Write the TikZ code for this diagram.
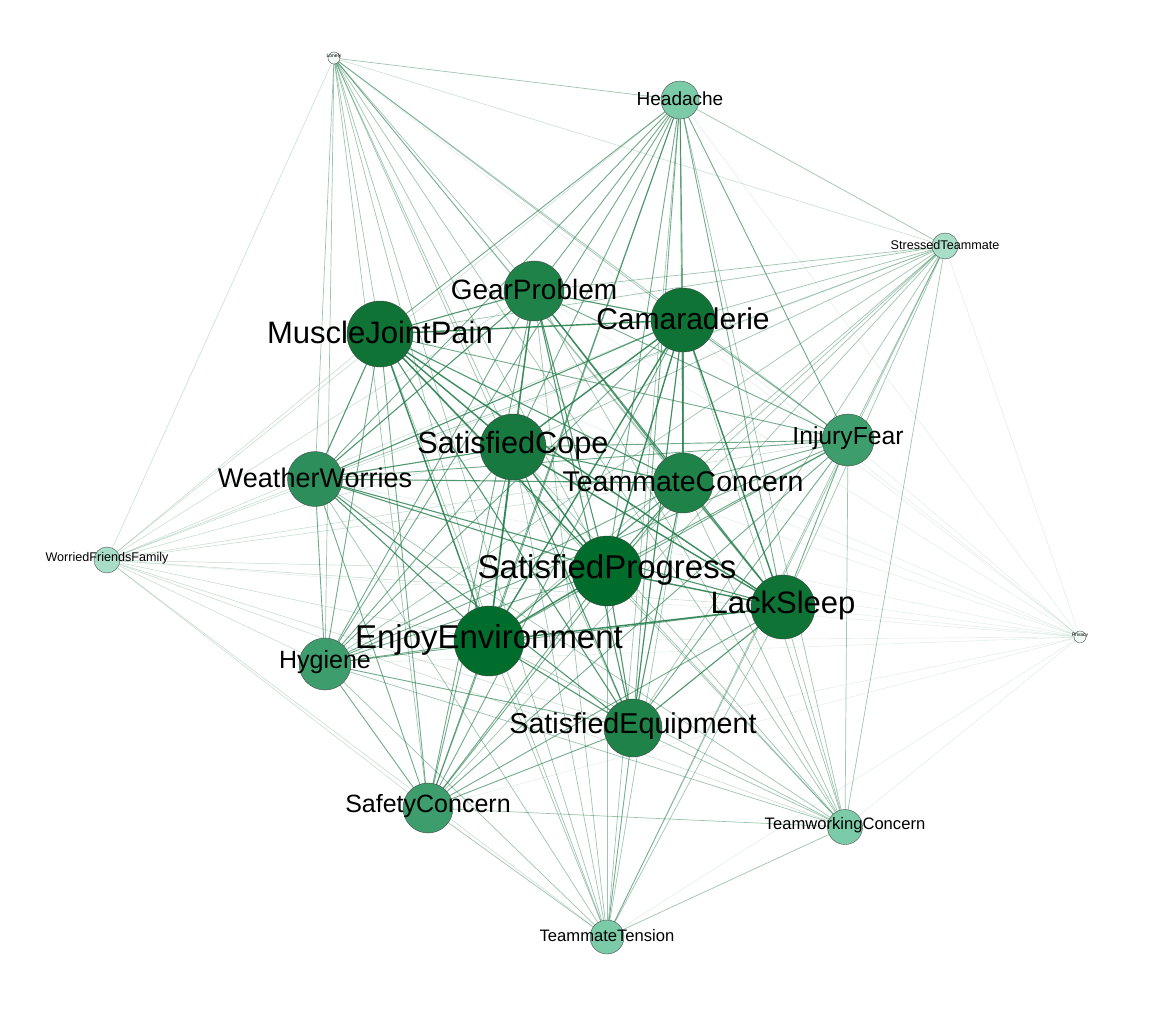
\documentclass[tikz,border=0pt]{standalone}
\usepackage{fontspec}
\setmainfont{Liberation Sans}
\usepackage{xcolor}
\definecolor{gzero}{HTML}{006D2C}
\definecolor{gone}{HTML}{0F7336}
\definecolor{gtwo}{HTML}{17793F}
\definecolor{gthree}{HTML}{1F8249}
\definecolor{gfour}{HTML}{2E8E5B}
\definecolor{gfive}{HTML}{3E9D6D}
\definecolor{gsix}{HTML}{7BCBA9}
\definecolor{gseven}{HTML}{A8DDC8}
\definecolor{geight}{HTML}{F2FAF6}
\definecolor{wire}{HTML}{267F4D}
\usetikzlibrary{positioning}
\tikzset{
  vtx/.style={circle,draw=black!75,line width=0.35pt,minimum size=#1,inner sep=0pt},
  lab/.style={font=\fontsize{#1}{#1}\selectfont,inner sep=0pt,text=black,yshift=1.5pt},
  eA/.style={draw=wire,line width=1.4pt,draw opacity=0.9},
  eB/.style={draw=wire,line width=1.1pt,draw opacity=0.8},
  eC/.style={draw=wire,line width=0.9pt,draw opacity=0.65},
  eD/.style={draw=wire,line width=0.7pt,draw opacity=0.45},
  eE/.style={draw=wire,line width=0.5pt,draw opacity=0.28},
  eF/.style={draw=wire,line width=0.4pt,draw opacity=0.16},
}
\begin{document}
\begin{tikzpicture}[x=1pt,y=-1pt]
  \useasboundingbox[fill=white] (0,0) rectangle (1162,1020);
  % node positions
  \coordinate (lon) at (334,58);
  \coordinate (ha) at (680,100);
  \coordinate (st) at (945,246);
  \coordinate (gp) at (534,291);
  \coordinate (mjp) at (380,334);
  \coordinate (cam) at (683,320);
  \coordinate (injf) at (848,440);
  \coordinate (sc) at (513,447);
  \coordinate (ww) at (315,479);
  \coordinate (tc) at (683,483);
  \coordinate (wff) at (107,560);
  \coordinate (sp) at (607,571);
  \coordinate (ls) at (783,607);
  \coordinate (pri) at (1080,637);
  \coordinate (ee) at (489,641);
  \coordinate (hy) at (325,664);
  \coordinate (se) at (633,728);
  \coordinate (saf) at (428,808);
  \coordinate (twc) at (845,827);
  \coordinate (tt) at (607,937);
  % edges
  \foreach \t in {cam,sc,sp,ls,ee} \draw[eA] (mjp) -- (\t);
  \foreach \t in {sc,sp,ls,ee} \draw[eA] (cam) -- (\t);
  \foreach \t in {sp,ls,ee} \draw[eA] (sc) -- (\t);
  \foreach \t in {ls,ee} \draw[eA] (sp) -- (\t);
  \draw[eA] (ls) -- (ee);
  \foreach \s in {gp,ww,tc,se} \foreach \t in {mjp,cam,sc,sp,ls,ee} \draw[eB] (\s) -- (\t);
  \foreach \s/\t in {gp/ww,gp/tc,gp/se,ww/tc,ww/se,tc/se} \draw[eB] (\s) -- (\t);
  \foreach \s in {injf,hy,saf,ha} \foreach \t in {mjp,cam,sc,sp,ls,ee,gp,ww,tc,se} \draw[eC] (\s) -- (\t);
  \foreach \s/\t in {injf/hy,injf/saf,hy/saf,ha/injf,ha/hy,ha/saf} \draw[eC] (\s) -- (\t);
  \foreach \s in {twc,tt} \foreach \t in {mjp,cam,sc,sp,ls,ee,gp,ww,tc,se,injf,hy,saf,ha} \draw[eD] (\s) -- (\t);
  \draw[eD] (twc) -- (tt);
  \foreach \s in {st,lon} \foreach \t in {mjp,cam,sc,sp,ls,ee,gp,ww,tc,se,injf,hy,saf,ha,twc,tt} \draw[eD] (\s) -- (\t);
  \draw[eE] (st) -- (lon);
  \foreach \t in {mjp,cam,sc,sp,ls,ee,gp,ww,tc,se,injf,hy,saf,ha,twc,tt,st,lon} \draw[eE] (wff) -- (\t);
  \foreach \t in {mjp,cam,sc,sp,ls,ee,gp,ww,tc,se,injf,hy,saf,ha,twc,tt,st,lon,wff} \draw[eF] (pri) -- (\t);
  % nodes
  \node[vtx=12pt,fill=geight,label={[lab=5]center:Lonely}] at (lon) {};
  \node[vtx=38pt,fill=gsix,label={[lab=19]center:Headache}] at (ha) {};
  \node[vtx=26pt,fill=gseven,label={[lab=12.6]center:StressedTeammate}] at (st) {};
  \node[vtx=26pt,fill=gseven,label={[lab=12.6]center:WorriedFriendsFamily}] at (wff) {};
  \node[vtx=12pt,fill=geight,label={[lab=5]center:Privacy}] at (pri) {};
  \node[vtx=35pt,fill=gsix,label={[lab=16.6]center:TeamworkingConcern}] at (twc) {};
  \node[vtx=34pt,fill=gsix,label={[lab=16.6]center:TeammateTension}] at (tt) {};
  \node[vtx=60pt,fill=gthree,label={[lab=28]center:GearProblem}] at (gp) {};
  \node[vtx=66pt,fill=gone,label={[lab=31]center:MuscleJointPain}] at (mjp) {};
  \node[vtx=64pt,fill=gone,label={[lab=30]center:Camaraderie}] at (cam) {};
  \node[vtx=52pt,fill=gfive,label={[lab=24.7]center:InjuryFear}] at (injf) {};
  \node[vtx=66pt,fill=gtwo,label={[lab=30.7]center:SatisfiedCope}] at (sc) {};
  \node[vtx=55pt,fill=gfour,label={[lab=27]center:WeatherWorries}] at (ww) {};
  \node[vtx=60pt,fill=gthree,label={[lab=28.5]center:TeammateConcern}] at (tc) {};
  \node[vtx=70pt,fill=gzero,label={[lab=33]center:SatisfiedProgress}] at (sp) {};
  \node[vtx=64pt,fill=gone,label={[lab=31]center:LackSleep}] at (ls) {};
  \node[vtx=52pt,fill=gfive,label={[lab=25]center:Hygiene}] at (hy) {};
  \node[vtx=70pt,fill=gzero,label={[lab=33]center:EnjoyEnvironment}] at (ee) {};
  \node[vtx=58pt,fill=gthree,label={[lab=28.7]center:SatisfiedEquipment}] at (se) {};
  \node[vtx=50pt,fill=gfive,label={[lab=25]center:SafetyConcern}] at (saf) {};
\end{tikzpicture}
\end{document}
